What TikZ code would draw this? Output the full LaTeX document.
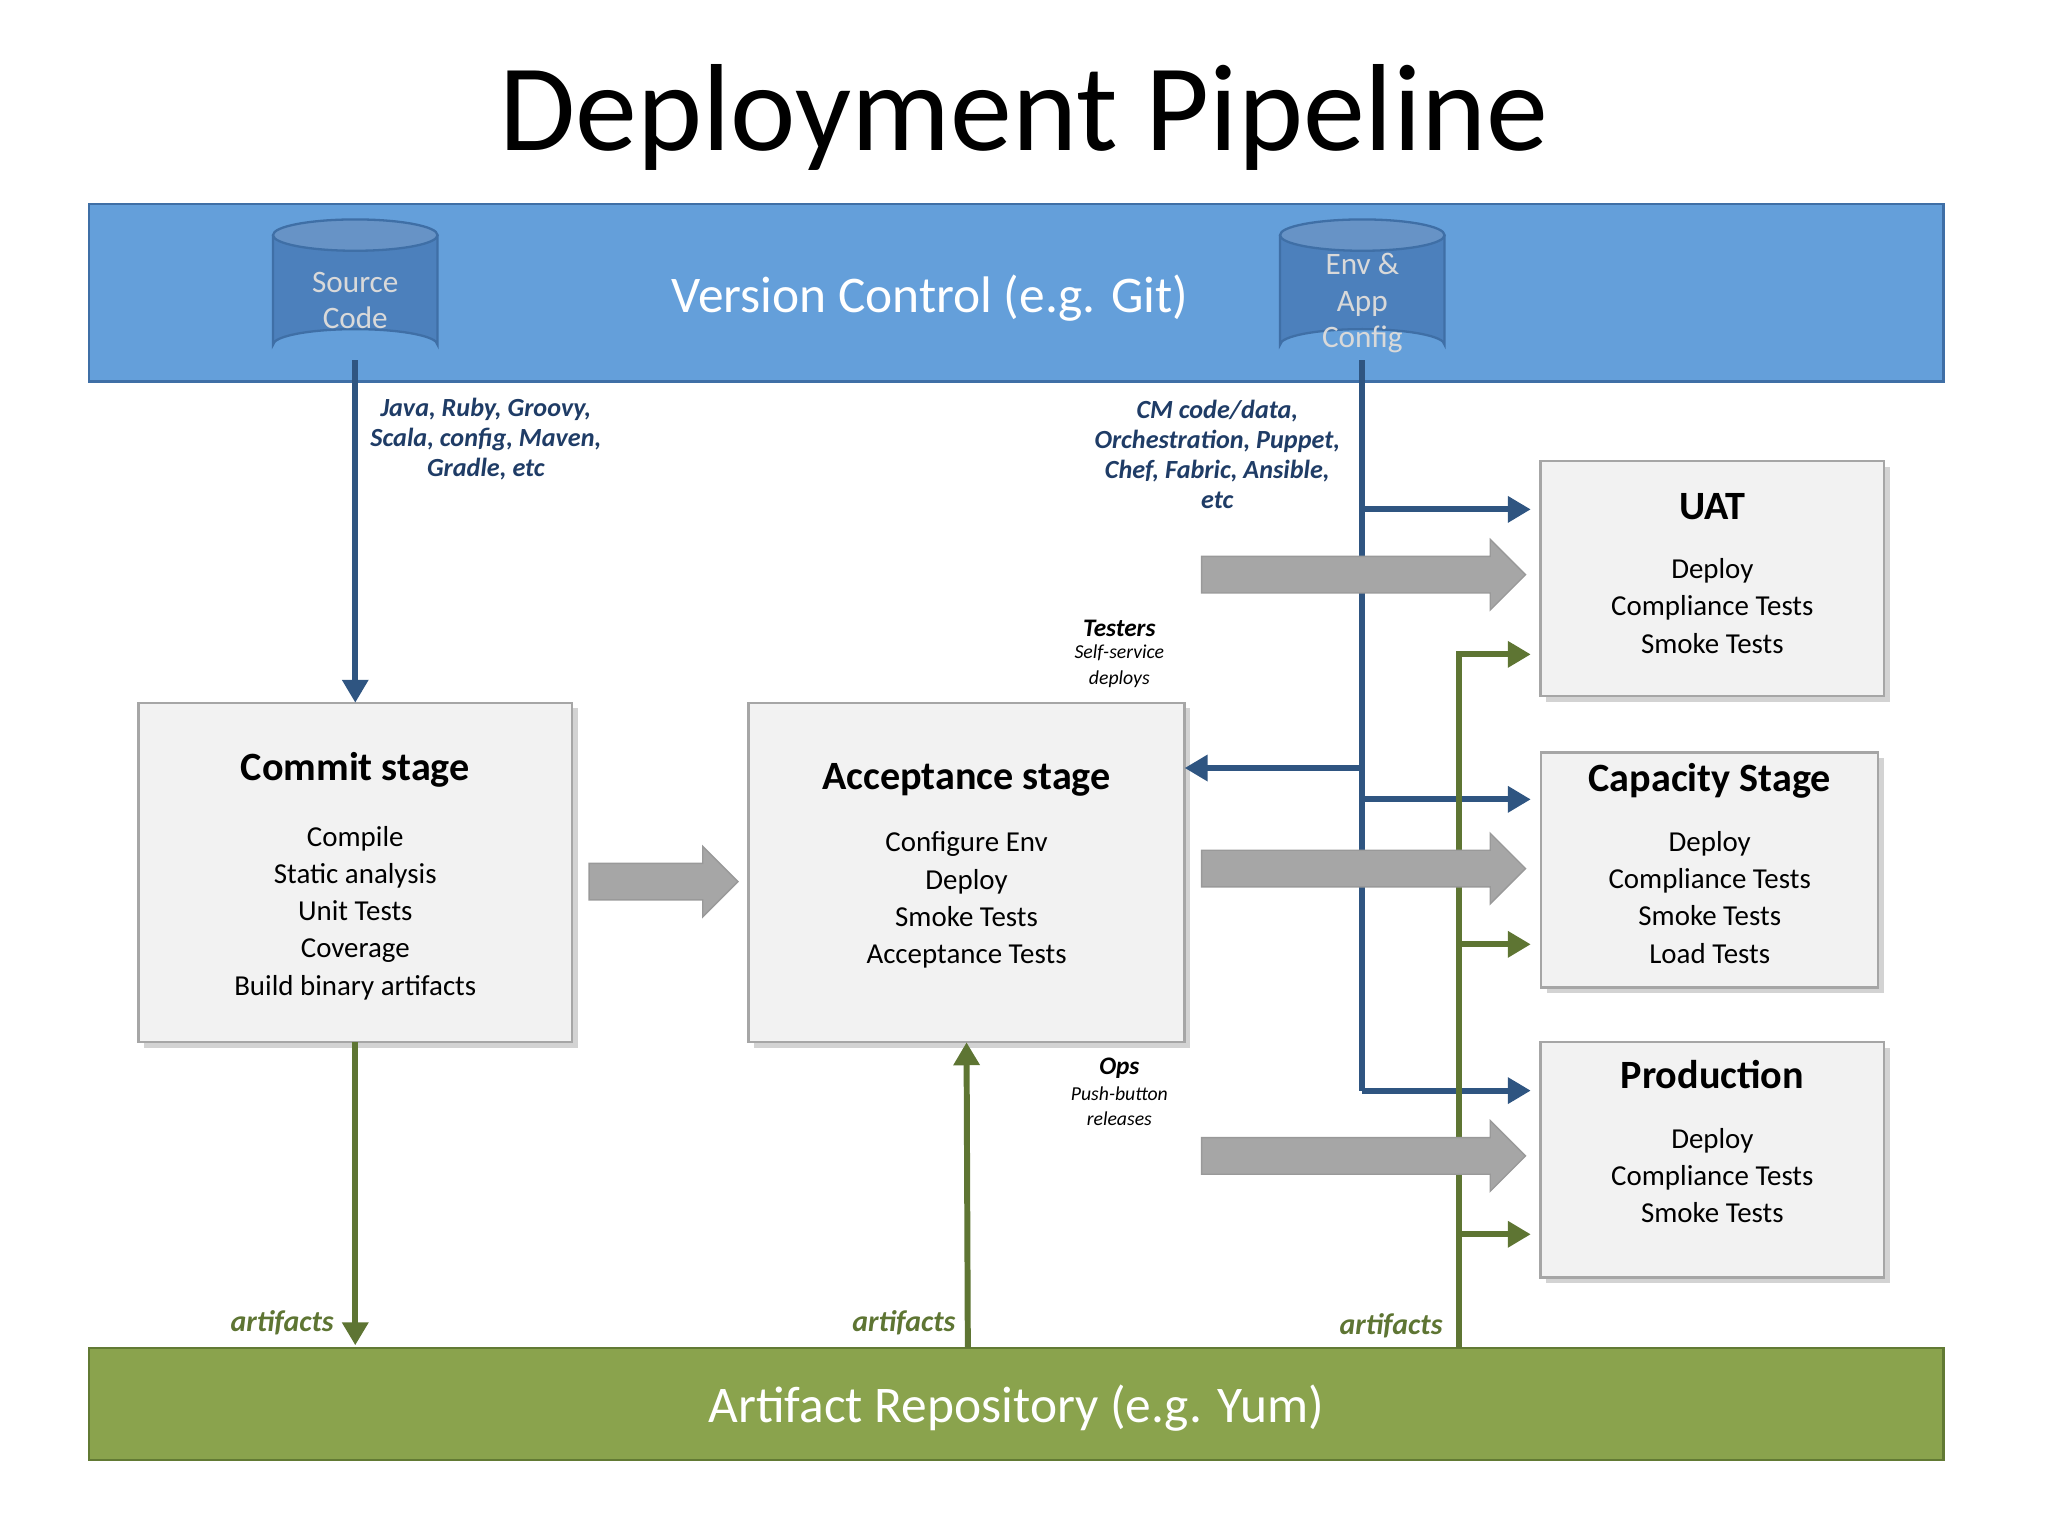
\documentclass[tikz,border=0pt]{standalone}
\usepackage{fontspec}
\setmainfont{Carlito}
\usetikzlibrary{shadows,arrows.meta}
\definecolor{vcfill}{HTML}{649FDA}
\definecolor{vcline}{HTML}{3F6FA6}
\definecolor{cylfill}{HTML}{4C80BC}
\definecolor{arfill}{HTML}{8AA34D}
\definecolor{arline}{HTML}{627A34}
\definecolor{bluel}{HTML}{2F5581}
\definecolor{greenl}{HTML}{5E7533}
\definecolor{lblblue}{HTML}{1F3C66}
\begin{document}
\begin{tikzpicture}[x=0.02cm,y=-0.02cm,
  box/.style={draw=black!35, line width=1pt, fill=black!5, drop shadow={opacity=0.35}},
  ttl/.style={font=\bfseries\fontsize{17.5}{20}\selectfont},
  body/.style={align=center, font=\fontsize{12.6}{16.2}\selectfont},
  lbl/.style={align=center, text=lblblue, font=\bfseries\itshape\fontsize{11.4}{13}\selectfont},
  blk/.style={align=center, font=\itshape\fontsize{8.6}{11}\selectfont},
  art/.style={text=greenl, font=\bfseries\itshape\fontsize{13}{14}\selectfont},
  bline/.style={draw=bluel, line width=2.6pt},
  barr/.style={bline, -{Triangle[length=10pt,width=11pt]}},
  gline/.style={draw=greenl, line width=2.6pt},
  garr/.style={gline, -{Triangle[length=10pt,width=11pt]}},
  fat/.style={fill=black!35, draw=black!40, line width=0.6pt}]
\useasboundingbox (0,0) rectangle (1568,1176);
\node[font=\fontsize{54}{58}\selectfont] (title) at (784,90) {Deployment Pipeline};
% version control band
\draw[fill=vcfill, draw=vcline, line width=1pt] (68,156) rectangle (1488,292);
\node[text=white, font=\fontsize{22.4}{26}\selectfont] (vc) at (712,228) {Version Control (e.g. Git)};
% cylinders
\foreach \cx/\nm in {272/src,1043/env}{
  \draw[fill=cylfill, draw=vcline, line width=1pt]
    (\cx-63,180) -- (\cx-63,264) arc[start angle=180,end angle=360,x radius=63,y radius=12]
    -- (\cx+63,180);
  \draw[fill=cylfill!85!white, draw=vcline, line width=1pt] (\cx,180) ellipse[x radius=63,y radius=12];
  \coordinate (\nm) at (\cx,276);
}
\node[align=center, text=white!85!black, font=\fontsize{13.6}{16}\selectfont] (srct) at (272,230) {Source\\Code};
\node[align=center, text=white!85!black, font=\fontsize{13.6}{16}\selectfont] (envt) at (1043,232) {Env \&\\App\\Config};
% artifact band
\draw[fill=arfill, draw=arline, line width=1pt] (68,1032) rectangle (1488,1118);
\node[text=white, font=\fontsize{22.4}{26}\selectfont] (ar) at (778,1078) {Artifact Repository (e.g. Yum)};
% stage boxes
\node[box, minimum width=6.64cm, minimum height=5.2cm] (commit) at (272,668) {};
\node[box, minimum width=6.68cm, minimum height=5.2cm] (accept) at (740,668) {};
\node[box, minimum width=5.26cm, minimum height=3.6cm] (uat) at (1311,443) {};
\node[box, minimum width=5.16cm, minimum height=3.6cm] (cap) at (1309,666) {};
\node[box, minimum width=5.26cm, minimum height=3.6cm] (prod) at (1311,888) {};
\node[ttl] (committ) at (272,589) {Commit stage};
\node[body] (commitb) at (272,699) {Compile\\Static analysis\\Unit Tests\\Coverage\\Build binary artifacts};
\node[ttl] (acceptt) at (740,597) {Acceptance stage};
\node[body] (acceptb) at (740,689) {Configure Env\\Deploy\\Smoke Tests\\Acceptance Tests};
\node[ttl] (uatt) at (1311,388) {UAT};
\node[body] (uatb) at (1311,464) {Deploy\\Compliance Tests\\Smoke Tests};
\node[ttl] (capt) at (1309,598) {Capacity Stage};
\node[body] (capb) at (1309,687) {Deploy\\Compliance Tests\\Smoke Tests\\Load Tests};
\node[ttl] (prodt) at (1311,823) {Production};
\node[body] (prodb) at (1311,900) {Deploy\\Compliance Tests\\Smoke Tests};
% blue connectors
\coordinate (ba) at (272,538);
\draw[barr] (src) -- (ba);
\coordinate (t1) at (1043,390); \coordinate (t2) at (1043,588);
\coordinate (t3) at (1043,612); \coordinate (t4) at (1043,835);
\coordinate (u1) at (1172,390); \coordinate (u2) at (907,588);
\coordinate (u3) at (1172,612); \coordinate (u4) at (1172,835);
\draw[bline] (env) -- (t4);
\draw[barr] (t1) -- (u1);
\draw[barr] (t2) -- (u2);
\draw[barr] (t3) -- (u3);
\draw[barr] (t4) -- (u4);
% green connectors
\coordinate (g1) at (272,798); \coordinate (g2) at (272,1030);
\draw[garr] (g1) -- (g2);
\coordinate (g3) at (741,1032); \coordinate (g4) at (740,798);
\draw[garr] (g3) -- (g4);
\coordinate (gb) at (1117,1032); \coordinate (gt) at (1117,501);
\coordinate (gc) at (1117,723); \coordinate (gp) at (1117,945);
\coordinate (hu) at (1172,501); \coordinate (hc) at (1172,723); \coordinate (hp) at (1172,945);
\draw[garr] (gb) -- (gt) -- (hu);
\draw[garr] (gc) -- (hc);
\draw[garr] (gp) -- (hp);
% fat gray arrows
\foreach \xa/\xb/\yy in {451/565/675, 920/1168/440, 920/1168/665, 920/1168/885}{
  \draw[fat] (\xa,\yy-14) -- (\xb-27,\yy-14) -- (\xb-27,\yy-27) -- (\xb,\yy) -- (\xb-27,\yy+27)
    -- (\xb-27,\yy+14) -- (\xa,\yy+14) -- cycle;
}
% labels
\node[lbl] (l1) at (372,336) {Java, Ruby, Groovy,\\Scala, config, Maven,\\Gradle, etc};
\node[lbl] (l2) at (932,348) {CM code/data,\\Orchestration, Puppet,\\Chef, Fabric, Ansible,\\etc};
\node[font=\bfseries\itshape\fontsize{11}{12}\selectfont] (tst) at (857,481) {Testers};
\node[blk] (tsts) at (857,510) {Self-service\\deploys};
\node[font=\bfseries\itshape\fontsize{11}{12}\selectfont] (ops) at (857,818) {Ops};
\node[blk] (opss) at (857,847) {Push-button\\releases};
\node[art] (a1) at (216,1013) {artifacts};
\node[art] (a2) at (692,1013) {artifacts};
\node[art] (a3) at (1065,1015) {artifacts};
\end{tikzpicture}
\end{document}
